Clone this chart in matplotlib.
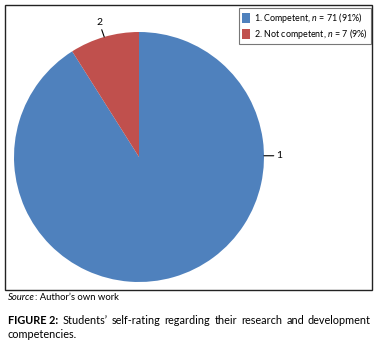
import numpy as np
import matplotlib
matplotlib.use("Agg")
import matplotlib.pyplot as plt
from matplotlib.patches import Rectangle, Patch

plt.rcParams['font.family'] = ['Lato', 'DejaVu Sans']
plt.rcParams['mathtext.fontset'] = 'custom'
plt.rcParams['mathtext.rm'] = 'Lato'
plt.rcParams['mathtext.it'] = 'Lato:italic'

# donnees
labels = ['1', '2']
legend_names = ['1. Competent', '2. Not competent']
counts = [71, 7]
percents = [91, 9]
colors = ['#4F81BD', '#C0504D']

W, H = 377, 343
fig = plt.figure(figsize=(W / 100, H / 100), dpi=100)


def fx(px):
    return px / W


def fy(py):
    return 1 - py / H


# cadre
fig.patches.append(Rectangle((fx(5), fy(290)), fx(367), 285 / H, transform=fig.transFigure,
                             fill=False, edgecolor='#222222', linewidth=1.0))

# camembert
cx, cy, r = 139, 157, 125
ax = fig.add_axes([fx(cx - r), fy(cy + r), 2 * r / W, 2 * r / H])
wedges, _ = ax.pie(counts, colors=colors, startangle=90, counterclock=False,
                   wedgeprops=dict(linewidth=0))
ax.set_xlim(-1, 1)
ax.set_ylim(-1, 1)
ax.set_aspect('equal')
ax.axis('off')

# etiquettes avec lignes de rappel
line = dict(arrowstyle='-', color='black', lw=0.8, shrinkA=0, shrinkB=0)
ax.annotate(labels[0], xy=(1.0, 0.01), xytext=(1.1, 0.01), ha='left', va='center',
            fontsize=7.5, annotation_clip=False, arrowprops=line)
w = wedges[1]
ang = np.deg2rad((w.theta1 + w.theta2) / 2)
x0, y0 = np.cos(ang), np.sin(ang)
ax.annotate(labels[1], xy=(x0, y0), xytext=(x0 - 0.04, y0 + 0.08), ha='center', va='bottom',
            fontsize=7.5, annotation_clip=False, arrowprops=line)

# legende
handles = [Patch(facecolor=c, edgecolor='none') for c in colors]
texts = [f'{nm}, $n$ = {n} ({p}%)' for nm, n, p in zip(legend_names, counts, percents)]
leg = fig.legend(handles, texts, loc='upper left', bbox_to_anchor=(fx(239), fy(8)),
                 fontsize=6.4, frameon=True, fancybox=False, handlelength=0.9, handleheight=1.25,
                 handletextpad=0.4, borderpad=0.35, labelspacing=0.2, borderaxespad=0)
leg.get_frame().set_edgecolor('#555555')
leg.get_frame().set_linewidth(0.8)

fig.canvas.draw()
rend = fig.canvas.get_renderer()

# source
s1 = fig.text(fx(8), fy(297), 'Source', fontsize=6.8, style='italic', va='center', ha='left')
sw = s1.get_window_extent(rend).width / W
fig.text(fx(8) + sw, fy(297), ': Author\u2019s own work', fontsize=6.8, va='center', ha='left')

# legende de figure justifiee
line1 = ['FIGURE 2:', 'Students\u2019', 'self-rating', 'regarding', 'their', 'research', 'and',
         'development']
objs = []
for i, wd in enumerate(line1):
    t = fig.text(0, fy(320), wd, fontsize=7.8, va='center', ha='left',
                 weight='bold' if i == 0 else 'normal')
    objs.append(t)
widths = [t.get_window_extent(rend).width / W for t in objs]
left, right = fx(8), fx(371)
gap = (right - left - sum(widths)) / (len(objs) - 1)
x = left
for t, wdt in zip(objs, widths):
    t.set_x(x)
    x += wdt + gap
fig.text(left, fy(334), 'competencies.', fontsize=7.8, va='center', ha='left')

fig.savefig('out.png', dpi=100)
